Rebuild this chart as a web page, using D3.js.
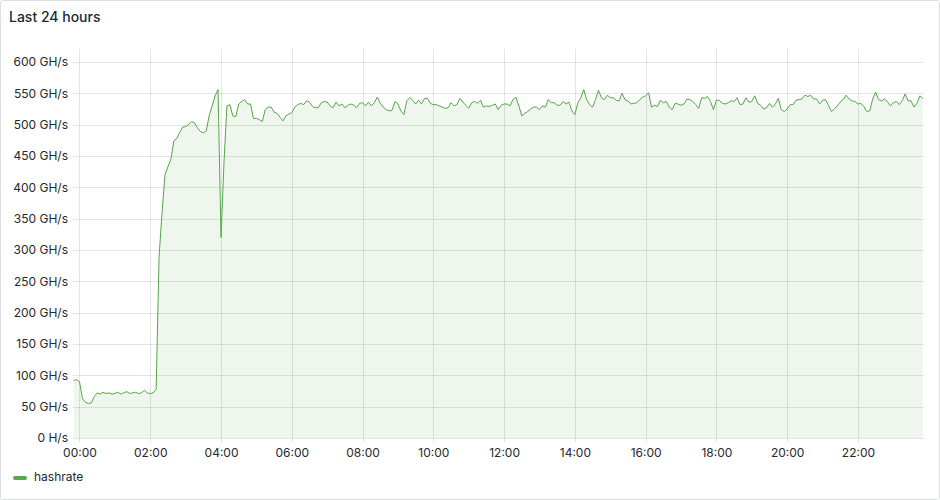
<!DOCTYPE html>
<html>
<head>
<meta charset="utf-8">
<script src="https://cdn.jsdelivr.net/npm/d3@7"></script>
<style>
  html, body { margin: 0; padding: 0; background: #ffffff; }
  svg { display: block; font-family: Inter, "Open Sans", sans-serif; }
</style>
</head>
<body>
<svg id="chart" width="940" height="500"></svg>
<script>
// ---- data ----
const title = "Last 24 hours";
const seriesName = "hashrate";
const startMinute = -10;   // first sample, minutes relative to 00:00
const stepMinutes = 5;     // sample interval
const hashrate = [
  92, 93,
  90, 63, 57, 55, 56, 66, 72, 70, 73, 71, 72, 70,
  71, 73, 70, 72, 74, 71, 72, 73, 71, 72, 76, 72,
  71, 72, 78, 290, 360, 420, 433, 445, 474, 478, 488, 496,
  497, 500, 505, 503, 495, 489, 487, 490, 515, 530, 546, 556,
  320, 440, 530, 532, 514, 513, 533, 537, 540, 533, 533, 510,
  510, 508, 505, 524, 528, 528, 520, 518, 512, 506, 514, 517,
  519, 528, 532, 534, 532, 538, 536, 529, 527, 527, 535, 537,
  536, 530, 527, 536, 530, 533, 527, 531, 533, 531, 527, 534,
  535, 530, 536, 530, 535, 544, 534, 528, 524, 522, 523, 537,
  533, 522, 516, 538, 543, 539, 533, 539, 533, 542, 542, 534,
  532, 532, 530, 528, 526, 527, 535, 530, 532, 542, 536, 531,
  526, 535, 537, 534, 539, 528, 530, 529, 531, 533, 524, 531,
  533, 533, 530, 540, 544, 530, 514, 518, 521, 525, 528, 528,
  524, 530, 528, 540, 535, 535, 531, 531, 537, 533, 536, 522,
  516, 535, 543, 556, 540, 532, 528, 540, 555, 543, 540, 547,
  543, 543, 539, 538, 550, 540, 538, 533, 534, 535, 540, 544,
  546, 551, 528, 531, 529, 539, 535, 537, 528, 524, 534, 533,
  531, 533, 541, 540, 537, 532, 526, 543, 542, 545, 537, 524,
  539, 539, 534, 533, 535, 538, 537, 543, 532, 533, 543, 536,
  537, 546, 534, 531, 525, 527, 534, 528, 533, 542, 524, 521,
  525, 532, 532, 539, 540, 541, 547, 545, 547, 541, 541, 533,
  539, 540, 531, 521, 525, 530, 536, 540, 547, 541, 538, 537,
  533, 534, 529, 521, 522, 541, 552, 540, 538, 541, 537, 530,
  535, 537, 532, 538, 549, 538, 538, 528, 534, 546, 542
];
const xTickHours = [0, 2, 4, 6, 8, 10, 12, 14, 16, 18, 20, 22];
const xTickLabels = ["00:00", "02:00", "04:00", "06:00", "08:00", "10:00", "12:00", "14:00", "16:00", "18:00", "20:00", "22:00"];
const yTickValues = [0, 50, 100, 150, 200, 250, 300, 350, 400, 450, 500, 550, 600];
const yTickLabels = ["0 H/s", "50 GH/s", "100 GH/s", "150 GH/s", "200 GH/s", "250 GH/s", "300 GH/s", "350 GH/s", "400 GH/s", "450 GH/s", "500 GH/s", "550 GH/s", "600 GH/s"];

// ---- layout ----
const W = 940, H = 500;
const plot = { left: 73, right: 924, top: 49, bottom: 438 };
const green = "#56a64b";
const textColor = "#24292e";
const gridColor = "rgba(36,41,46,0.12)";

const svg = d3.select("#chart");

// panel
svg.append("rect")
  .attr("x", 0.5).attr("y", 0.5)
  .attr("width", W - 1).attr("height", H - 1)
  .attr("rx", 2)
  .attr("fill", "#ffffff")
  .attr("stroke", "#dcdee0");

svg.append("text")
  .attr("x", 9).attr("y", 22)
  .attr("fill", textColor)
  .attr("font-size", 14)
  .attr("font-weight", 500)
  .text(title);

const points = hashrate.map((v, i) => ({ m: startMinute + i * stepMinutes, v }));

const x = d3.scaleLinear().domain([-11, 1432]).range([plot.left, plot.right]);
const y = d3.scaleLinear().domain([0, 600]).range([plot.bottom, 62]);

// grid
const g = svg.append("g");
g.selectAll("line.hgrid").data(yTickValues).enter().append("line")
  .attr("class", "hgrid")
  .attr("x1", plot.left).attr("x2", plot.right)
  .attr("y1", d => Math.round(y(d)) + 0.5).attr("y2", d => Math.round(y(d)) + 0.5)
  .attr("stroke", gridColor);
g.selectAll("line.vgrid").data(xTickHours).enter().append("line")
  .attr("class", "vgrid")
  .attr("x1", d => Math.round(x(d * 60)) + 0.5).attr("x2", d => Math.round(x(d * 60)) + 0.5)
  .attr("y1", plot.top).attr("y2", plot.bottom + 4)
  .attr("stroke", gridColor);

// area + line
const area = d3.area()
  .x(d => x(d.m)).y0(y(0)).y1(d => y(d.v));
const line = d3.line()
  .x(d => x(d.m)).y(d => y(d.v));

svg.append("path").datum(points)
  .attr("d", area)
  .attr("fill", green).attr("fill-opacity", 0.1);
svg.append("path").datum(points)
  .attr("d", line)
  .attr("fill", "none")
  .attr("stroke", green).attr("stroke-width", 1)
  .attr("stroke-linejoin", "round");

// y axis labels
const yAxis = d3.axisLeft(y).tickValues(yTickValues)
  .tickFormat((d, i) => yTickLabels[i]).tickSize(0).tickPadding(0);
svg.append("g")
  .attr("transform", `translate(68,0)`)
  .call(yAxis)
  .call(s => s.select(".domain").remove())
  .call(s => s.selectAll("text").attr("fill", textColor).attr("font-size", 12)
    .attr("font-family", "Inter, sans-serif"));

// x axis labels
const xAxis = d3.axisBottom(x).tickValues(xTickHours.map(h => h * 60))
  .tickFormat((d, i) => xTickLabels[i]).tickSize(0).tickPadding(0);
svg.append("g")
  .attr("transform", `translate(0,${plot.bottom + 10})`)
  .call(xAxis)
  .call(s => s.select(".domain").remove())
  .call(s => s.selectAll("text").attr("fill", textColor).attr("font-size", 12)
    .attr("font-family", "Inter, sans-serif"));

// legend
svg.append("rect")
  .attr("x", 13).attr("y", 476)
  .attr("width", 14).attr("height", 4)
  .attr("rx", 2)
  .attr("fill", green);
svg.append("text")
  .attr("x", 34).attr("y", 481)
  .attr("fill", textColor)
  .attr("font-size", 12)
  .text(seriesName);
</script>
</body>
</html>
